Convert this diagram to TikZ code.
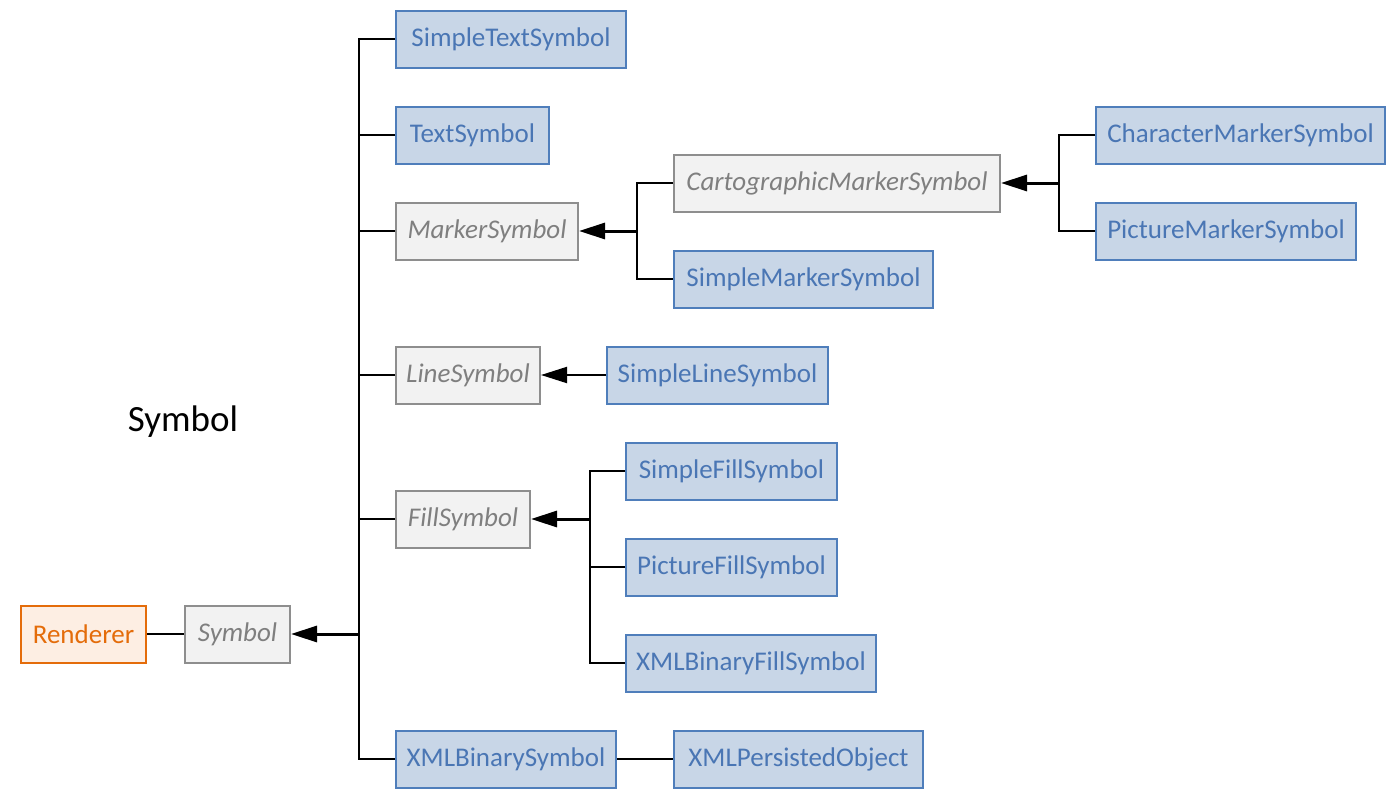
\documentclass[tikz,border=0pt]{standalone}
\usepackage{fontspec}
\setmainfont{Carlito}
\usetikzlibrary{arrows.meta}
\definecolor{bfill}{HTML}{C8D6E7}
\definecolor{bdraw}{HTML}{4F7EBB}
\definecolor{btext}{HTML}{4A76B4}
\definecolor{gfill}{HTML}{F2F2F2}
\definecolor{gdraw}{HTML}{8E8E8E}
\definecolor{gtext}{HTML}{7F7F7F}
\definecolor{ofill}{HTML}{FDEEE3}
\definecolor{odraw}{HTML}{E46C0A}
\begin{document}
\begin{tikzpicture}[x=1pt,y=-1pt,
  box/.style={draw, line width=2pt, anchor=west, inner sep=0pt, minimum height=57pt, font=\fontsize{27}{31}\selectfont},
  cls/.style={box, fill=bfill, draw=bdraw, text=btext},
  abs/.style={box, fill=gfill, draw=gdraw, text=gtext, font=\fontsize{27}{31}\selectfont\itshape},
  ren/.style={box, fill=ofill, draw=odraw, text=odraw},
  conn/.style={draw=black, line width=2pt},
  arr/.style={draw=black, line width=3pt, -{Triangle[length=26pt,width=16pt]}}]
\useasboundingbox (0,0) rectangle (1389,798);
% nodes
\node[cls, minimum width=230pt] (sts) at (395,39) {SimpleTextSymbol};
\node[cls, minimum width=153pt] (ts) at (395,135) {TextSymbol};
\node[abs, minimum width=182pt] (ms) at (395,231) {MarkerSymbol};
\node[abs, minimum width=144pt] (ls) at (395,375) {LineSymbol};
\node[abs, minimum width=134pt] (fs) at (395,519) {FillSymbol};
\node[cls, minimum width=220pt] (xbs) at (395,759) {XMLBinarySymbol};
\node[cls, minimum width=249pt] (xpo) at (673,759) {XMLPersistedObject};
\node[ren, minimum width=125pt] (ren) at (20,634) {Renderer};
\node[abs, minimum width=105pt] (sym) at (184,634) {Symbol};
\node[font=\fontsize{37}{42}\selectfont, text=black] (title) at (183,422) {Symbol};
\node[abs, minimum width=326pt] (cms) at (673,183) {CartographicMarkerSymbol};
\node[cls, minimum width=259pt] (sms) at (673,279) {SimpleMarkerSymbol};
\node[cls, minimum width=289pt] (chms) at (1095,135) {CharacterMarkerSymbol};
\node[cls, minimum width=260pt] (pms) at (1095,231) {PictureMarkerSymbol};
\node[cls, minimum width=221pt] (sls) at (606,375) {SimpleLineSymbol};
\node[cls, minimum width=211pt] (sfs) at (625,471) {SimpleFillSymbol};
\node[cls, minimum width=211pt] (pfs) at (625,567) {PictureFillSymbol};
\node[cls, minimum width=250pt] (xbfs) at (625,663) {XMLBinaryFillSymbol};
% junctions
\coordinate (j1) at (359,634);
\coordinate (j2) at (637,231);
\coordinate (j3) at (1059,183);
\coordinate (j4) at (590,519);
% trunk
\foreach \n in {sts,ts,ms,ls,fs,xbs} \draw[conn] (\n.west) -| (j1);
\draw[arr] (j1) -- (sym.east);
\draw[conn] (ren.east) -- (sym.west);
\draw[conn] (xbs.east) -- (xpo.west);
% marker
\foreach \n in {cms,sms} \draw[conn] (\n.west) -| (j2);
\draw[arr] (j2) -- (ms.east);
\foreach \n in {chms,pms} \draw[conn] (\n.west) -| (j3);
\draw[arr] (j3) -- (cms.east);
% line
\draw[arr, line width=2pt] (sls.west) -- (ls.east);
% fill
\foreach \n in {sfs,pfs,xbfs} \draw[conn] (\n.west) -| (j4);
\draw[arr] (j4) -- (fs.east);
\end{tikzpicture}
\end{document}
